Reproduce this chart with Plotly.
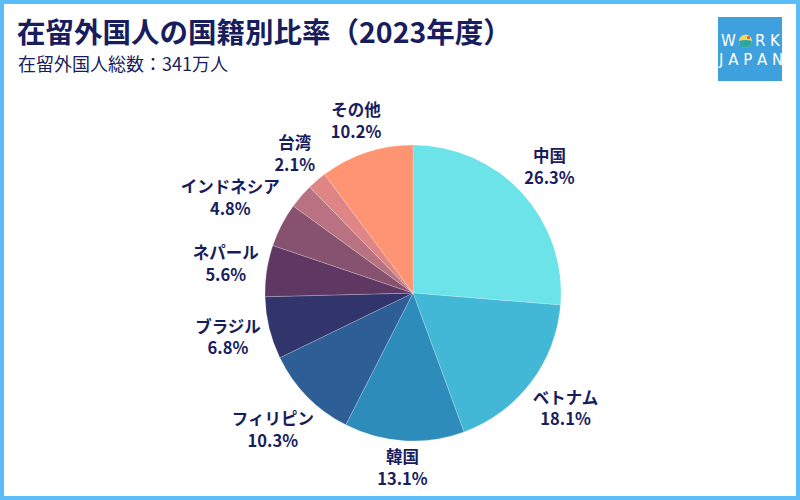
import math
import plotly.graph_objects as go

# shares by nationality (%), clockwise from 12 o'clock
countries = ["中国", "ベトナム", "韓国", "フィリピン", "ブラジル", "ネパール", "インドネシア", "その他の国", "台湾", "その他"]
shares = [26.3, 18.1, 13.1, 10.3, 6.8, 5.6, 4.8, 2.7, 2.1, 10.2]
# one small slice carries no label in the original
show_label = [True, True, True, True, True, True, True, False, True, True]

colours = ["#6be3e8", "#42b8d6", "#2e8cba", "#2d5e96", "#32346c",
           "#5e3763", "#87526f", "#b87282", "#e08585", "#ff9472"]

title = "在留外国人の国籍別比率（2023年度）"
subtitle = "在留外国人総数：341万人"

navy = "#181d5e"
border_blue = "#5bbcf7"
logo_blue = "#3ea0dc"

W, H = 800, 500
#pie centre and radius in px
cx, cy, r = 413, 293, 148
label_size = 16.5

fig = go.Figure()

fig.add_trace(go.Pie(
    labels=countries,
    values=shares,
    textinfo="none",
    sort=False,
    direction="clockwise",
    rotation=0,
    marker=dict(colors=colours, line=dict(color="rgba(255,255,255,0.35)", width=0.6)),
    hoverinfo="label+value",
    showlegend=False,
    domain=dict(x=[(cx - r) / W, (cx + r) / W], y=[(H - cy - r) / H, (H - cy + r) / H]),
))

#labels sit just outside each slice, pushed out by roughly half the text box
total = sum(shares)
lx, ly, ltext = [], [], []
cum = 0
for name, v, show in zip(countries, shares, show_label):
    mid = (cum + v / 2) / total * 2 * math.pi
    cum += v
    if not show:
        continue
    pct = f"{v:.1f}%"
    digits = sum(ch.isdigit() for ch in pct)
    w = max(len(name) * label_size * 0.94, digits * label_size * 0.57 + label_size * 1.15)
    h = 2 * label_size * 1.1
    s, c = math.sin(mid), math.cos(mid)
    d = r + 8 + abs(s) * w / 2 + abs(c) * h / 2
    lx.append(cx + d * s)
    ly.append(cy - d * c + 1.5)
    ltext.append(f"<b>{name}<br>{pct}</b>")

fig.add_trace(go.Scatter(
    x=lx, y=ly, text=ltext, mode="text", textposition="middle center",
    textfont=dict(family="Noto Sans CJK JP", size=label_size, color=navy),
    hoverinfo="skip", showlegend=False,
))

#title and subtitle
fig.add_annotation(
    text="<b>" + title + "</b>", xref="paper", yref="paper", x=15 / W, y=1 - 30 / H,
    xanchor="left", yanchor="middle", showarrow=False,
    font=dict(family="Noto Sans CJK JP", size=28.5, color=navy),
)
fig.add_annotation(
    text=subtitle, xref="paper", yref="paper", x=16 / W, y=1 - 63 / H,
    xanchor="left", yanchor="middle", showarrow=False,
    font=dict(family="Noto Sans CJK JP", size=18, color=navy),
)

#logo box
fig.add_shape(type="rect", xref="paper", yref="paper",
              x0=718 / W, x1=782 / W, y0=1 - 81 / H, y1=1 - 17 / H,
              fillcolor=logo_blue, line=dict(width=0), layer="above")
fig.add_annotation(
    text="W&nbsp;&nbsp;&nbsp;&nbsp;R&nbsp;K", xref="paper", yref="paper", x=751 / W, y=1 - 41 / H,
    xanchor="center", yanchor="middle", showarrow=False,
    font=dict(family="DejaVu Sans", size=15, color="white"),
)
fig.add_annotation(
    text="J&nbsp;A&nbsp;P&nbsp;A&nbsp;N", xref="paper", yref="paper", x=750 / W, y=1 - 60 / H,
    xanchor="center", yanchor="middle", showarrow=False,
    font=dict(family="DejaVu Sans", size=15, color="white"),
)
#sun in the O
fig.add_shape(type="circle", xref="paper", yref="paper",
              x0=739 / W, x1=752 / W, y0=1 - 47.5 / H, y1=1 - 34.5 / H,
              fillcolor="#f0d858", line=dict(width=0), layer="above")
fig.add_shape(type="path", xref="paper", yref="paper",
              path=f"M {739 / W} {1 - 41 / H} Q {745.5 / W} {1 - 39 / H} {752 / W} {1 - 41 / H} "
                   f"Q {751 / W} {1 - 47.5 / H} {745.5 / W} {1 - 47.5 / H} Q {740 / W} {1 - 47.5 / H} {739 / W} {1 - 41 / H} Z",
              fillcolor="#2aa8a0", line=dict(width=0), layer="above")
fig.add_shape(type="circle", xref="paper", yref="paper",
              x0=747 / W, x1=750 / W, y0=1 - 39 / H, y1=1 - 36 / H,
              fillcolor="#e8503a", line=dict(width=0), layer="above")

#frame round the whole picture
fig.add_shape(type="rect", xref="paper", yref="paper", x0=0, x1=1, y0=0, y1=1,
              line=dict(color=border_blue, width=8), fillcolor="rgba(0,0,0,0)", layer="above")

fig.update_layout(
    width=W,
    height=H,
    margin=dict(l=0, r=0, t=0, b=0),
    paper_bgcolor="white",
    plot_bgcolor="white",
    font=dict(family="Noto Sans CJK JP", color=navy),
    xaxis=dict(range=[0, W], visible=False, fixedrange=True),
    yaxis=dict(range=[H, 0], visible=False, fixedrange=True),
)

#the page body has an 8px margin by default; drop it so the frame sits on the window edge
fig.write_html("out.html", config={"displayModeBar": False},
               post_script="document.body.style.margin='0';")
